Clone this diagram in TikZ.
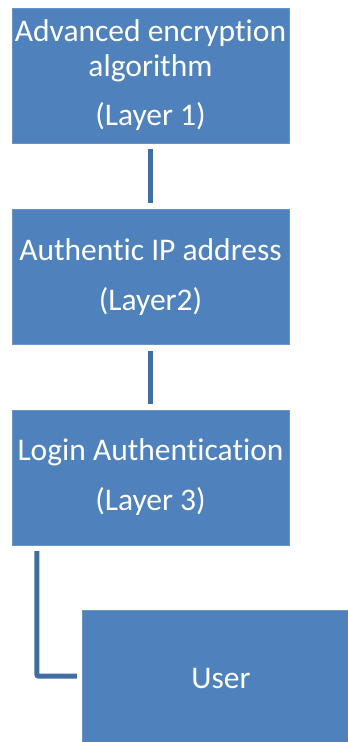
\documentclass[tikz,border=0pt]{standalone}
\usepackage{fontspec}
\setmainfont{Carlito}[Ligatures=NoCommon]
\usepackage{xcolor}
\definecolor{layerFill}{HTML}{4F81BD}
\definecolor{linkDark}{HTML}{426DA3}
\usetikzlibrary{positioning,calc}
\tikzset{%
  layerBox/.style={%
    rectangle,
    draw=layerFill!85!white,
    fill=layerFill,
    text=white,
    inner sep=0pt,
    minimum width=277pt,
    minimum height=135pt,
    align=center,
    font=\fontsize{31.5}{34.5}\selectfont
  },
  linkLine/.style={%
    line width=5pt,
    color=linkDark
  }
}

\begin{document}
\begin{tikzpicture}[x=1pt,y=1pt]
  \useasboundingbox (0,0) rectangle (348,-742);
  \clip (0,0) rectangle (348,-742);
  \node[layerBox] (layer1) at (150.5,-75.5) {Advanced encryption\\algorithm\\[15pt](Layer 1)};
  \node[layerBox, below=66pt of layer1] (layer2) {Authentic IP address\\[15pt](Layer2)};
  \node[layerBox, below=65pt of layer2] (layer3) {Login Authentication\\[15pt](Layer 3)};
  \node[layerBox, minimum width=278pt, minimum height=136pt, below right=65pt and 70pt of layer3.south west] (user) {User};

  \draw[linkLine, shorten <=6pt, shorten >=6pt] (layer1) -- (layer2);
  \draw[linkLine, shorten <=6pt, shorten >=6pt] (layer2) -- (layer3);
  \draw[linkLine, rounded corners=2pt] ([xshift=25pt,yshift=-6pt]layer3.south west) |- ([xshift=-5pt,yshift=2pt]user.west);
\end{tikzpicture}
\end{document}
